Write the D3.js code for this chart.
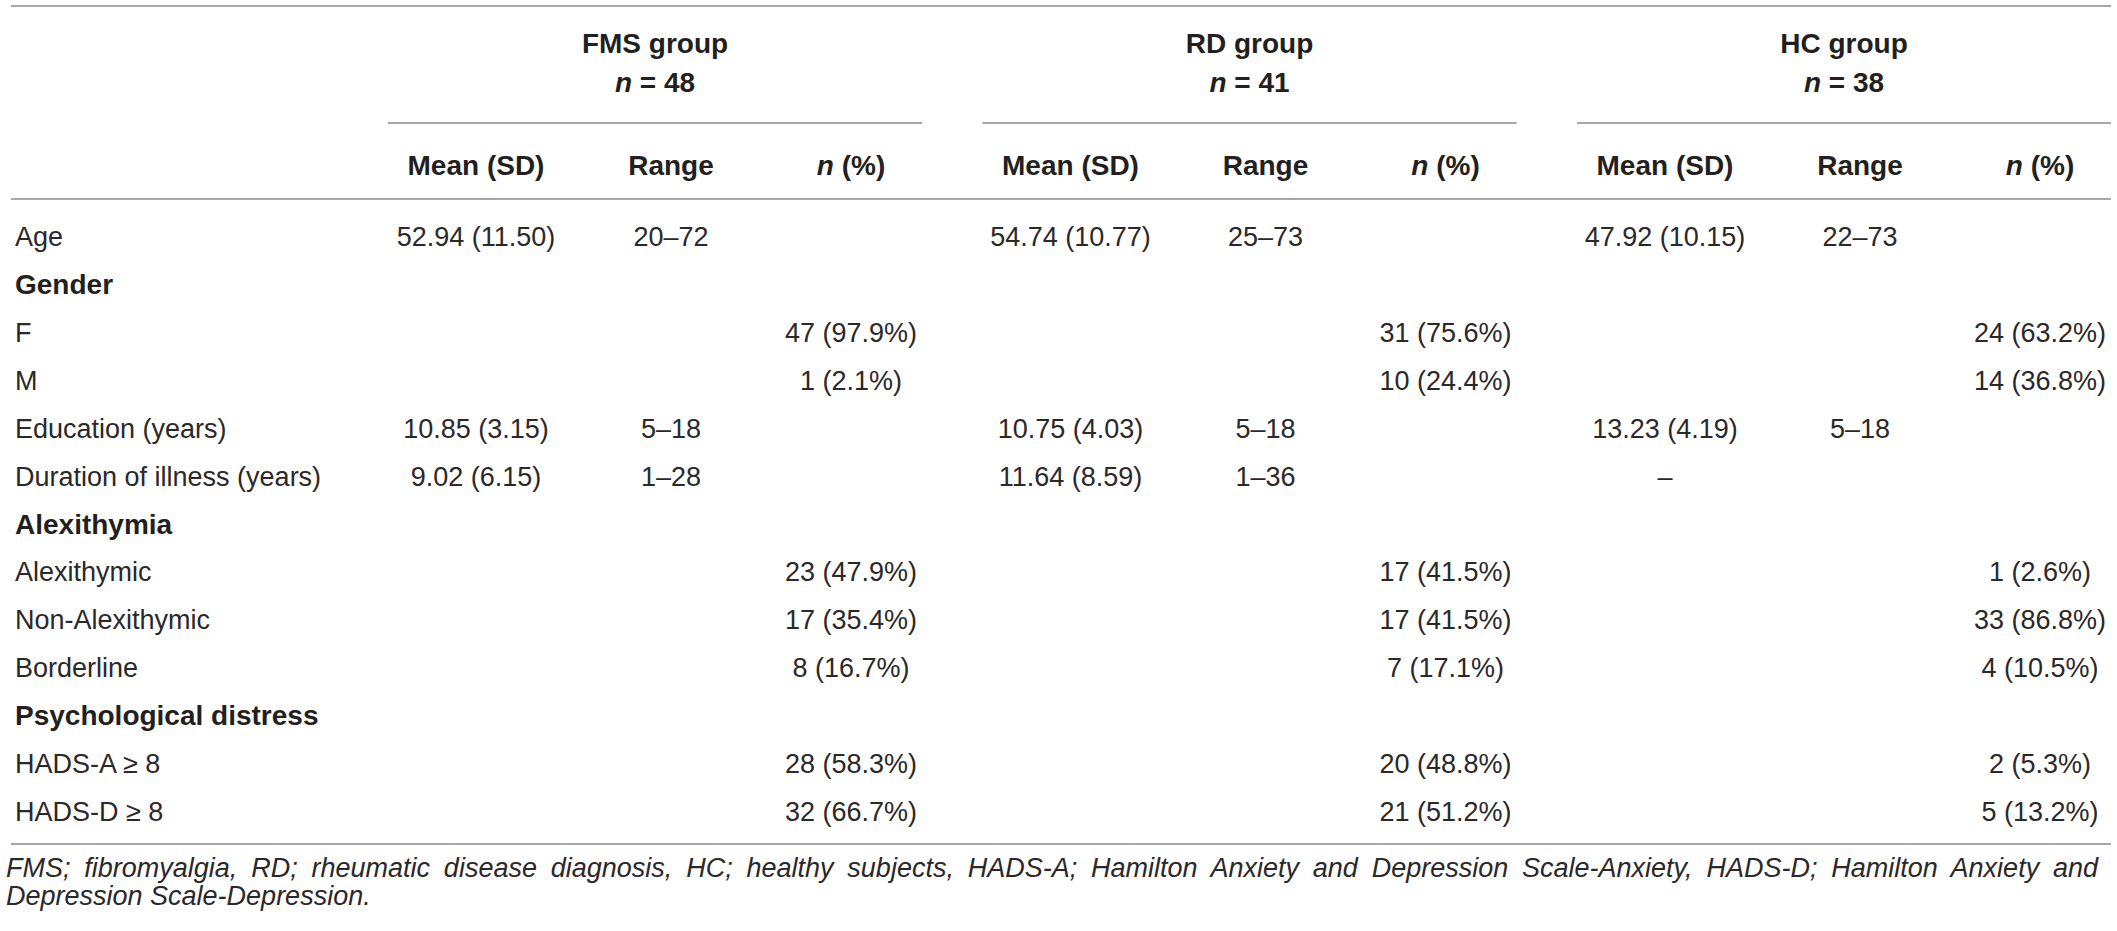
<!DOCTYPE html>
<html>
<head>
<meta charset="utf-8">
<script src="https://cdn.jsdelivr.net/npm/d3@7"></script>
<style>
  body { margin: 0; background: #fff; }
  svg { display: block; }
  text { font-family: "Liberation Sans", Arial, sans-serif; fill: #231f20; }
  .hdr { font-weight: bold; font-size: 28px; }
  .cell { font-size: 27px; fill: #2b2829; }
  .note { font-size: 27px; font-style: italic; fill: #2b2829; }
</style>
</head>
<body>
<svg id="chart" width="2117" height="931"></svg>
<script>
// table content
const groups = ["FMS group", "RD group", "HC group"];
const groupN = [48, 41, 38];
const subCols = ["Mean (SD)", "Range", "n (%)"];

const rowLabels = ["Age", "Gender", "F", "M", "Education (years)", "Duration of illness (years)",
  "Alexithymia", "Alexithymic", "Non-Alexithymic", "Borderline",
  "Psychological distress", "HADS-A \u2265 8", "HADS-D \u2265 8"];
const boldRows = ["Gender", "Alexithymia", "Psychological distress"];

// one entry per row: [Mean (SD), Range, n (%)]
const fmsValues = [
  ["52.94 (11.50)", "20\u201372", ""], ["", "", ""],
  ["", "", "47 (97.9%)"], ["", "", "1 (2.1%)"],
  ["10.85 (3.15)", "5\u201318", ""], ["9.02 (6.15)", "1\u201328", ""],
  ["", "", ""], ["", "", "23 (47.9%)"], ["", "", "17 (35.4%)"], ["", "", "8 (16.7%)"],
  ["", "", ""], ["", "", "28 (58.3%)"], ["", "", "32 (66.7%)"]
];
const rdValues = [
  ["54.74 (10.77)", "25\u201373", ""], ["", "", ""],
  ["", "", "31 (75.6%)"], ["", "", "10 (24.4%)"],
  ["10.75 (4.03)", "5\u201318", ""], ["11.64 (8.59)", "1\u201336", ""],
  ["", "", ""], ["", "", "17 (41.5%)"], ["", "", "17 (41.5%)"], ["", "", "7 (17.1%)"],
  ["", "", ""], ["", "", "20 (48.8%)"], ["", "", "21 (51.2%)"]
];
const hcValues = [
  ["47.92 (10.15)", "22\u201373", ""], ["", "", ""],
  ["", "", "24 (63.2%)"], ["", "", "14 (36.8%)"],
  ["13.23 (4.19)", "5\u201318", ""], ["\u2013", "", ""],
  ["", "", ""], ["", "", "1 (2.6%)"], ["", "", "33 (86.8%)"], ["", "", "4 (10.5%)"],
  ["", "", ""], ["", "", "2 (5.3%)"], ["", "", "5 (13.2%)"]
];
const groupValues = [fmsValues, rdValues, hcValues];

const footnote = [
  "FMS; fibromyalgia, RD; rheumatic disease diagnosis, HC; healthy subjects, HADS-A; Hamilton Anxiety and Depression Scale-Anxiety, HADS-D; Hamilton Anxiety and",
  "Depression Scale-Depression."
];

const svg = d3.select("#chart");
const left = 11, right = 2111, textLeft = 15;
const lineColor = "#a7a7a7";

const x0 = d3.scaleBand()
  .domain(groups)
  .range([388, 2111])
  .paddingInner(0.1018);

const x1 = d3.scaleOrdinal()
  .domain(subCols)
  .range([88, 283, 463]);

const y = d3.scalePoint()
  .domain(d3.range(rowLabels.length))
  .range([236, 811]);

function hline(y0, xa, xb) {
  svg.append("line")
    .attr("x1", xa).attr("x2", xb)
    .attr("y1", y0).attr("y2", y0)
    .attr("stroke", lineColor)
    .attr("stroke-width", 2);
}

hline(6, left, right);
hline(199, left, right);
hline(844, left, right);
groups.forEach(g => hline(123, x0(g), x0(g) + x0.bandwidth()));

// group titles
const gh = svg.append("g").selectAll("g")
  .data(groups)
  .enter()
  .append("g")
  .attr("transform", g => "translate(" + (x0(g) + x0.bandwidth() / 2) + ",0)");

gh.append("text")
  .attr("class", "hdr")
  .attr("y", 53)
  .attr("text-anchor", "middle")
  .text(g => g);

const nt = gh.append("text")
  .attr("class", "hdr")
  .attr("y", 92)
  .attr("text-anchor", "middle");
nt.append("tspan").attr("font-style", "italic").text("n");
nt.append("tspan").text((g, i) => " = " + groupN[i]);

// column headers
groups.forEach(g => {
  subCols.forEach(c => {
    const t = svg.append("text")
      .attr("class", "hdr")
      .attr("x", x0(g) + x1(c))
      .attr("y", 175)
      .attr("text-anchor", "middle");
    if (c === "n (%)") {
      t.append("tspan").attr("font-style", "italic").text("n");
      t.append("tspan").text(" (%)");
    } else {
      t.text(c);
    }
  });
});

// row labels
svg.append("g").selectAll("text")
  .data(rowLabels)
  .enter()
  .append("text")
  .attr("class", d => boldRows.includes(d) ? "cell hdr" : "cell")
  .style("font-size", d => boldRows.includes(d) ? "28px" : null)
  .style("fill", d => boldRows.includes(d) ? "#231f20" : null)
  .attr("x", textLeft)
  .attr("y", (d, i) => y(i) + 10)
  .text(d => d);

// body cells
groups.forEach((g, gi) => {
  groupValues[gi].forEach((row, ri) => {
    row.forEach((v, ci) => {
      if (!v) return;
      svg.append("text")
        .attr("class", "cell")
        .attr("x", x0(g) + x1(subCols[ci]))
        .attr("y", y(ri) + 10)
        .attr("text-anchor", "middle")
        .text(v);
    });
  });
});

// footnote, first line justified to table width
const noteLeft = 6, noteRight = 2098;
footnote.forEach((s, i) => {
  const t = svg.append("text")
    .attr("class", "note")
    .attr("x", noteLeft)
    .attr("y", 877 + i * 28)
    .text(s);
  if (i === 0) {
    const w = t.node().getComputedTextLength();
    const spaces = s.split(" ").length - 1;
    t.attr("word-spacing", Math.max(0, (noteRight - noteLeft - w) / spaces));
  }
});
</script>
</body>
</html>
